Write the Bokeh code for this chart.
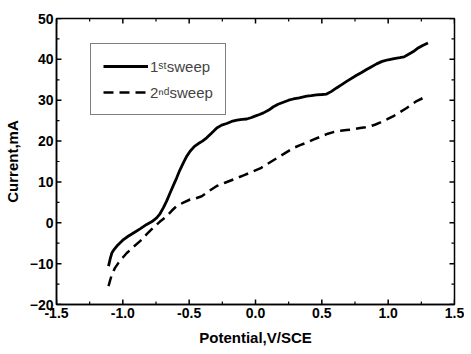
from bokeh.plotting import figure
from bokeh.models import SingleIntervalTicker, Range1d, Legend, LegendItem, PrintfTickFormatter
from bokeh.embed import file_html
from bokeh.resources import INLINE

# 1st sweep
x1 = [-1.108, -1.095, -1.083, -1.065, -1.045, -1.02, -0.995, -0.96, -0.92, -0.87, -0.82, -0.78, -0.745, -0.72, -0.694,
      -0.67, -0.644, -0.62, -0.594, -0.57, -0.543, -0.52, -0.493, -0.46, -0.43, -0.40, -0.368, -0.33, -0.292, -0.255,
      -0.217, -0.18, -0.14, -0.10, -0.066, -0.035, -0.004, 0.03, 0.06, 0.10,
      0.135, 0.17, 0.21, 0.25, 0.285, 0.33, 0.386, 0.42, 0.46, 0.50, 0.536, 0.57, 0.611, 0.65, 0.687, 0.762, 0.80, 0.837,
      0.875, 0.913, 0.955, 1.0, 1.045, 1.088, 1.12, 1.151, 1.19, 1.226, 1.26, 1.30]
y1 = [-10.6, -8.8, -7.4, -6.5, -5.7, -4.9, -4.1, -3.3, -2.5, -1.5, -0.4, 0.3, 1.2, 2.2, 3.7,
      5.3, 7.3, 9.1, 11.0, 12.9, 14.7, 16.2, 17.5, 18.7, 19.4, 20.0, 20.8, 22.0, 23.2, 23.9,
      24.3, 24.8, 25.1, 25.3, 25.4, 25.7, 26.1, 26.5, 26.9, 27.6,
      28.4, 29.0, 29.5, 30.0, 30.3, 30.6, 31.0, 31.1, 31.3, 31.4, 31.5, 32.1, 33.0, 33.8, 34.6, 36.1, 36.8, 37.5,
      38.2, 38.9, 39.5, 39.9, 40.2, 40.4, 40.6, 41.2, 41.9, 42.8, 43.4, 44.0]
# 2nd sweep
x2 = [-1.108, -1.095, -1.083, -1.06, -1.033, -1.0, -0.97, -0.92, -0.87, -0.82, -0.77, -0.72, -0.67, -0.63, -0.594,
      -0.54, -0.493, -0.45, -0.405, -0.35, -0.292, -0.23, -0.167, -0.09, -0.016, 0.035, 0.085, 0.135, 0.185, 0.235,
      0.286, 0.336, 0.386, 0.44, 0.5, 0.545, 0.587, 0.64, 0.687,
      0.74, 0.788, 0.83, 0.863, 0.90, 0.938, 0.99, 1.04, 1.09, 1.14, 1.18, 1.215, 1.26, 1.30]
y2 = [-15.5, -14.0, -12.7, -11.1, -9.8, -8.5, -7.4, -5.9, -4.5, -2.8, -1.2, 0.3, 1.6, 3.0, 4.1,
      5.0, 5.7, 6.0, 6.5, 7.8, 9.0, 9.8, 10.6, 11.6, 12.6, 13.3, 14.3, 15.3, 16.3, 17.3,
      18.3, 19.0, 19.6, 20.4, 21.2, 21.8, 22.2, 22.5, 22.7,
      22.9, 23.2, 23.4, 23.6, 24.0, 24.5, 25.3, 26.1, 27.1, 28.1, 29.0, 29.8, 30.5, 31.0]

labels = ["1\u02e2\u1d57sweep", "2\u207f\u1d48sweep"]
x_label = "Potential,V/SCE"
y_label = "Current,mA"

# axis ranges and tick positions
X0, X1 = -1.5, 1.5
Y0, Y1 = -20, 50
x_major = [-1.5, -1.0, -0.5, 0.0, 0.5, 1.0, 1.5]
x_minor = [-1.25, -0.75, -0.25, 0.25, 0.75, 1.25]
y_major = [-20, -10, 0, 10, 20, 30, 40, 50]
y_minor = [-15, -5, 5, 15, 25, 35, 45]

FONT = "Liberation Sans"
FW, FH = 398, 286

p = figure(frame_width=FW, frame_height=FH, output_backend="svg", toolbar_location=None,
           x_range=Range1d(X0, X1), y_range=Range1d(Y0, Y1),
           min_border_left=55, min_border_right=10, min_border_top=18, min_border_bottom=40,
           x_axis_label=x_label, y_axis_label=y_label)
p.grid.visible = False
p.outline_line_color = "black"
p.outline_line_width = 1.5
p.background_fill_color = "white"
p.border_fill_color = "white"

p.xaxis.ticker = SingleIntervalTicker(interval=0.5, num_minor_ticks=2)
p.yaxis.ticker = SingleIntervalTicker(interval=10, num_minor_ticks=2)
p.xaxis.formatter = PrintfTickFormatter(format="%.1f")

for ax in [p.xaxis[0], p.yaxis[0]]:
    ax.major_tick_in = 0
    ax.major_tick_out = 0
    ax.minor_tick_in = 0
    ax.minor_tick_out = 0
    ax.axis_line_width = 1.5
    ax.axis_line_color = "black"
    ax.major_label_text_font = FONT
    ax.major_label_text_font_style = "bold"
    ax.major_label_text_font_size = "14px"
    ax.major_label_text_color = "black"
    ax.axis_label_text_font = FONT
    ax.axis_label_text_font_style = "bold"
    ax.axis_label_text_font_size = "15px"
    ax.axis_label_text_color = "black"

p.xaxis.major_label_standoff = 3
p.xaxis.axis_label_standoff = 8
p.yaxis.major_label_standoff = 3
p.yaxis.axis_label_standoff = 6

# inward ticks on all four sides, drawn as segments (pixel lengths converted to data units)
dx = (X1 - X0) / FW
dy = (Y1 - Y0) / FH
MAJ, MIN = 5, 3
TC = "black"
for xs, L, w in [(x_major, MAJ, 1.5), (x_minor, MIN, 1.2)]:
    p.segment(x0=xs, y0=[Y0] * len(xs), x1=xs, y1=[Y0 + L * dy] * len(xs), line_color=TC, line_width=w)
    p.segment(x0=xs, y0=[Y1] * len(xs), x1=xs, y1=[Y1 - L * dy] * len(xs), line_color=TC, line_width=w)
for ys, L, w in [(y_major, MAJ, 1.5), (y_minor, MIN, 1.2)]:
    p.segment(x0=[X0] * len(ys), y0=ys, x1=[X0 + L * dx] * len(ys), y1=ys, line_color=TC, line_width=w)
    p.segment(x0=[X1] * len(ys), y0=ys, x1=[X1 - L * dx] * len(ys), y1=ys, line_color=TC, line_width=w)

r1 = p.line(x1, y1, line_color="black", line_width=2.8)
r2 = p.line(x2, y2, line_color="black", line_width=2.5, line_dash="10 6")

legend = Legend(items=[LegendItem(label=labels[0], renderers=[r1]),
                       LegendItem(label=labels[1], renderers=[r2])],
                location=(34, 189))
legend.border_line_color = "black"
legend.border_line_width = 1.2
legend.background_fill_alpha = 1
legend.label_text_font = FONT
legend.label_text_font_size = "15px"
legend.glyph_width = 45
legend.label_standoff = 2
legend.spacing = 6
legend.padding = 12
legend.margin = 0
p.add_layout(legend, "center")

open("out.html", "w").write(file_html(p, INLINE))
